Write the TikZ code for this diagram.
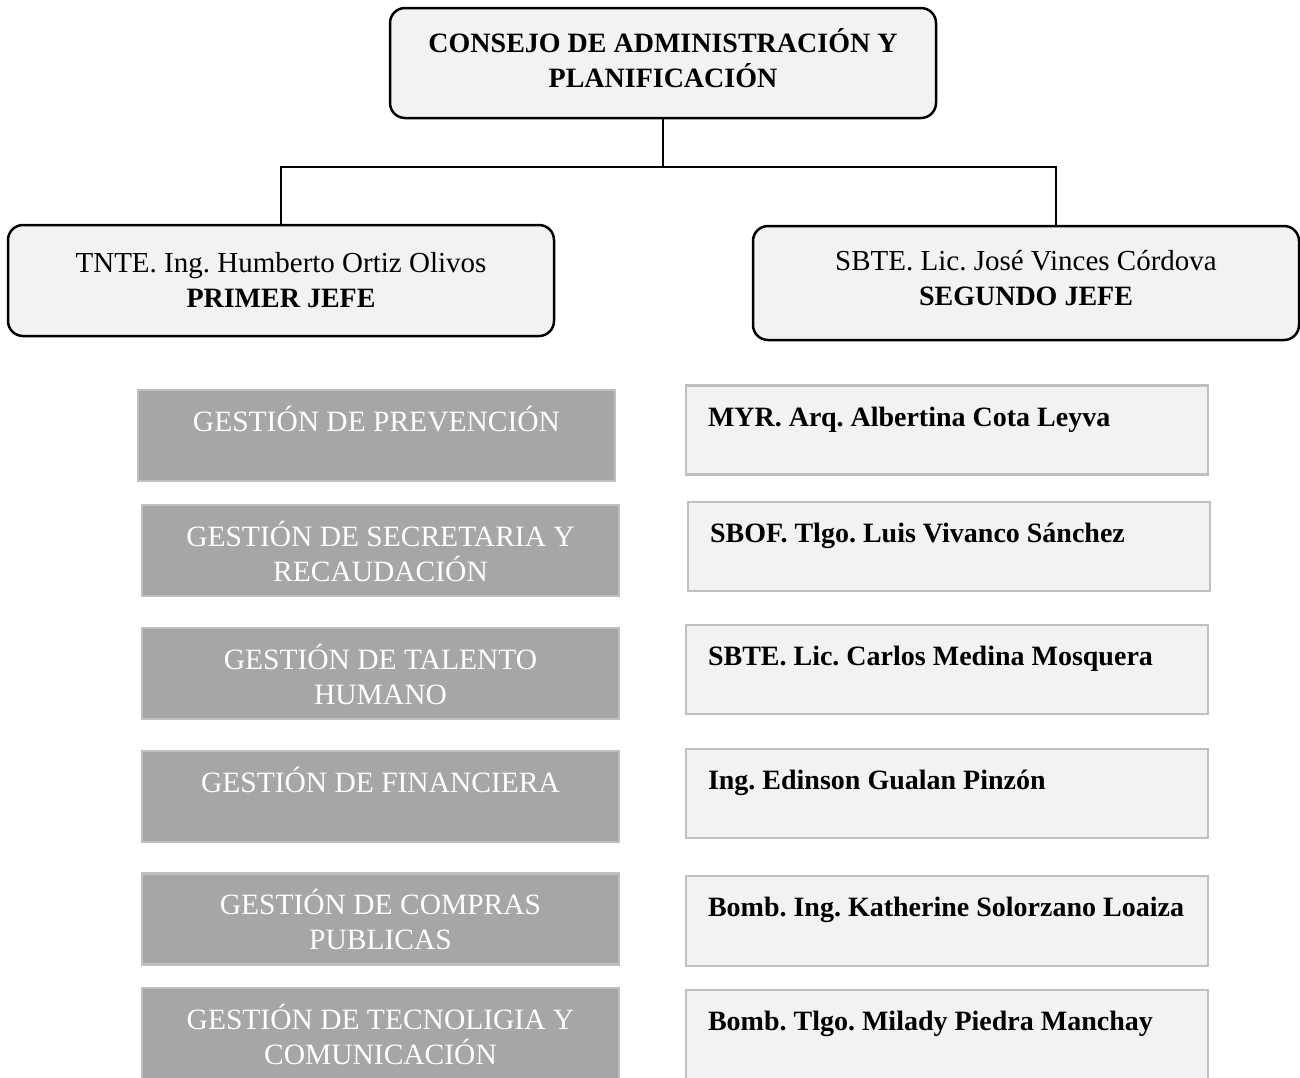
\documentclass[tikz,border=0pt]{standalone}
\usepackage{fontspec}
\setmainfont{Liberation Serif}
\frenchspacing
\definecolor{fondo}{HTML}{F2F2F2}
\definecolor{gris}{HTML}{A6A6A6}
\definecolor{borde}{HTML}{BFBFBF}
\newcommand{\caja}[3]{\parbox[t][#1][t]{#2}{\lineskiplimit=-\maxdimen #3}}
\begin{document}
\begin{tikzpicture}[x=1pt, y=-1pt, font=\fontsize{29}{35}\selectfont,
   jefe/.style={draw, line width=2.5pt, fill=fondo, rounded corners=15pt, align=center, minimum width=546pt, inner sep=0pt},
   gestion/.style={draw=borde, line width=2.5pt, fill=gris, text=white, inner xsep=0pt, inner ysep=16pt, font=\fontsize{29.5}{35}\selectfont},
   nombre/.style={draw=borde, line width=2.5pt, fill=fondo, inner xsep=22pt, inner ysep=16pt, font=\fontsize{28}{35}\selectfont\bfseries},
   linea/.style={line width=1.2pt}]
      \useasboundingbox (0,0) rectangle (1300,1077);
      \clip (0,0) rectangle (1300,1077);
      \node[jefe, minimum height=110pt, font=\fontsize{28}{35}\selectfont\bfseries] (consejo) at (663,63) {CONSEJO DE ADMINISTRACIÓN Y\\ PLANIFICACIÓN\rule[-10pt]{0pt}{0pt}};
      \node[jefe, minimum height=111pt] (primer) at (281,280.5) {TNTE. Ing. Humberto Ortiz Olivos\\ \textbf{\fontsize{28}{35}\selectfont PRIMER JEFE}};
      \node[jefe, minimum height=114pt] (segundo) at (1026,283) {SBTE. Lic. José Vinces Córdova\\ \textbf{\fontsize{28}{35}\selectfont SEGUNDO JEFE}\rule[-10pt]{0pt}{0pt}};
      \coordinate (cruce) at (664,167);
      \coordinate (bajada) at ([xshift=30pt]segundo.north);
      \draw[linea] (consejo.south) -- (consejo.south |- cruce);
      \draw[linea] (primer.north) |- (bajada |- cruce) -- (bajada);
      % gestiones
      \node[gestion] (g1) at (376.5,435.5) {\caja{59pt}{477pt}{\centering\strut GESTIÓN DE PREVENCIÓN}};
      \node[gestion] (g2) at (380.5,550.5) {\caja{59pt}{477pt}{\centering\strut GESTIÓN DE SECRETARIA Y\\ RECAUDACIÓN}};
      \node[gestion] (g3) at (380.5,673.5) {\caja{59pt}{477pt}{\centering\strut GESTIÓN DE TALENTO\\ HUMANO}};
      \node[gestion] (g4) at (380.5,796.5) {\caja{59pt}{477pt}{\centering\strut GESTIÓN DE FINANCIERA}};
      \node[gestion] (g5) at (380.5,919) {\caja{59pt}{477pt}{\centering\strut GESTIÓN DE COMPRAS\\ PUBLICAS}};
      \node[gestion] (g6) at (380.5,1033.5) {\caja{59pt}{477pt}{\centering\strut GESTIÓN DE TECNOLIGIA Y\\ COMUNICACIÓN}};
      % responsables
      \node[nombre] (n1) at (947,430) {\caja{57pt}{478pt}{\raggedright\strut MYR. Arq. Albertina Cota Leyva}};
      \node[nombre] (n2) at (949,546.5) {\caja{57pt}{478pt}{\raggedright\strut SBOF. Tlgo. Luis Vivanco Sánchez}};
      \node[nombre] (n3) at (947,669.5) {\caja{57pt}{478pt}{\raggedright\strut SBTE. Lic. Carlos Medina Mosquera}};
      \node[nombre] (n4) at (947,793.5) {\caja{57pt}{478pt}{\raggedright\strut Ing. Edinson Gualan Pinzón}};
      \node[nombre] (n5) at (947,921) {\caja{58pt}{478pt}{\raggedright\strut Bomb. Ing. Katherine Solorzano Loaiza}};
      \node[nombre] (n6) at (947,1034.5) {\caja{57pt}{478pt}{\raggedright\strut Bomb. Tlgo. Milady Piedra Manchay}};
\end{tikzpicture}
\end{document}
